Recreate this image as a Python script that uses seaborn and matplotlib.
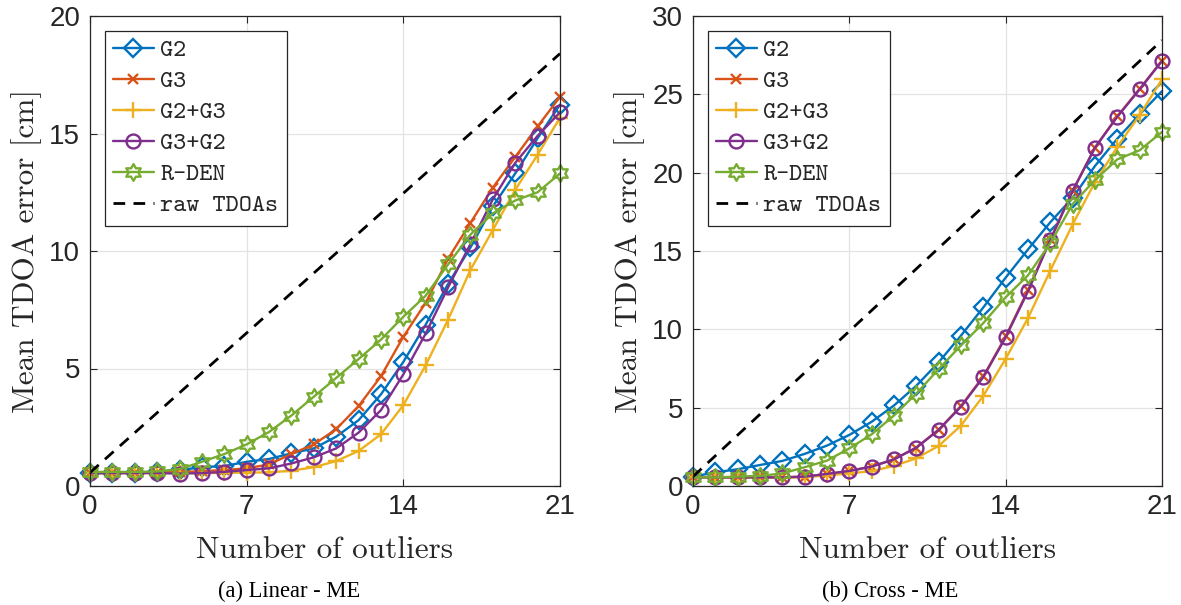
import matplotlib
matplotlib.use("Agg")
import matplotlib.pyplot as plt
from matplotlib.path import Path
import seaborn as sns

# ---------------- data ----------------
outliers = list(range(22))

# (a) Linear - ME
g2_lin = [0.55, 0.55, 0.57, 0.6, 0.68, 0.8, 0.85, 1.03, 1.15, 1.39, 1.6, 2.1,
          2.8, 3.9, 5.28, 6.87, 8.6, 10.15, 11.9, 13.3, 14.8, 16.23]
g3_lin = [0.55, 0.55, 0.55, 0.57, 0.6, 0.63, 0.68, 0.75, 0.92, 1.36, 1.77, 2.42,
          3.4, 4.67, 6.35, 7.8, 9.67, 11.2, 12.7, 14.0, 15.3, 16.56]
g2g3_lin = [0.55, 0.55, 0.55, 0.55, 0.55, 0.55, 0.56, 0.57, 0.58, 0.65, 0.8, 1.06,
            1.49, 2.2, 3.44, 5.14, 7.08, 9.2, 10.9, 12.6, 14.1, 15.67]
g3g2_lin = [0.55, 0.55, 0.55, 0.55, 0.53, 0.55, 0.6, 0.68, 0.75, 0.96, 1.22, 1.6,
            2.27, 3.23, 4.75, 6.49, 8.45, 10.3, 12.2, 13.75, 14.9, 15.9]
rden_lin = [0.6, 0.6, 0.6, 0.62, 0.72, 1.03, 1.36, 1.77, 2.3, 3.0, 3.8, 4.6,
            5.4, 6.23, 7.2, 8.1, 9.43, 10.7, 11.6, 12.15, 12.5, 13.3]
raw_x = [0, 21]
raw_lin = [0.57, 18.4]

# (b) Cross - ME
g2_cr = [0.6, 0.87, 1.07, 1.34, 1.6, 2.05, 2.58, 3.26, 4.1, 5.14, 6.4, 7.9,
         9.6, 11.4, 13.3, 15.1, 16.84, 18.4, 20.43, 22.17, 23.72, 25.2]
g3_cr = [0.55, 0.55, 0.55, 0.55, 0.55, 0.6, 0.77, 0.96, 1.24, 1.7, 2.45, 3.6,
         5.1, 7.0, 9.55, 12.5, 15.75, 18.85, 21.6, 23.6, 25.35, 27.15]
g2g3_cr = [0.55, 0.55, 0.55, 0.55, 0.55, 0.55, 0.68, 0.8, 0.95, 1.28, 1.77, 2.56,
           3.86, 5.76, 8.12, 10.72, 13.75, 16.7, 19.4, 21.64, 23.68, 25.96]
g3g2_cr = [0.55, 0.55, 0.55, 0.55, 0.55, 0.6, 0.77, 0.96, 1.24, 1.7, 2.45, 3.58,
           5.07, 6.95, 9.49, 12.43, 15.7, 18.83, 21.6, 23.57, 25.32, 27.13]
rden_cr = [0.55, 0.55, 0.6, 0.65, 0.8, 1.2, 1.62, 2.4, 3.3, 4.5, 5.9, 7.46,
           8.98, 10.4, 12.05, 13.45, 15.5, 18.0, 19.53, 20.85, 21.43, 22.6]
raw_cr = [0.6, 28.45]

series_names = ["G2", "G3", "G2+G3", "G3+G2", "R-DEN"]
raw_name = "raw TDOAs"
xticks = [0, 7, 14, 21]
yticks_lin = [0, 5, 10, 15, 20]
yticks_cr = [0, 5, 10, 15, 20, 25, 30]
captions = ["(a) Linear - ME", "(b) Cross - ME"]
xlabel = "Number of outliers"
ylabel = "Mean TDOA error [cm]"

# ---------------- style ----------------
sns.set_style("ticks")
plt.rcParams['font.family'] = ['Liberation Sans', 'DejaVu Sans']

hexagram = Path.unit_regular_star(6, 0.577)
colors = ["#0072BD", "#D95319", "#EDB120", "#7E2F8E", "#77AC30"]
markers = ["D", "x", "+", "o", hexagram]
msizes = [9, 7.5, 11, 10, 12]
axcol = "#262626"

fig = plt.figure(figsize=(11.81, 6.05), dpi=100)
W, H = 1181, 605
ax1 = fig.add_axes([90 / W, (H - 486) / H, 470 / W, 470 / H])
ax2 = fig.add_axes([693 / W, (H - 486) / H, 469 / W, 470 / H])
caption_x = [289 / W, 890 / W]

panels = [
    (ax1, [g2_lin, g3_lin, g2g3_lin, g3g2_lin, rden_lin], raw_lin, yticks_lin),
    (ax2, [g2_cr, g3_cr, g2g3_cr, g3g2_cr, rden_cr], raw_cr, yticks_cr),
]

for i, (ax, data, raw, yt) in enumerate(panels):
    ax.set_axisbelow(True)
    ax.grid(True, color="#e3e3e3", linewidth=0.9)
    for name, vals, c, m, ms in zip(series_names, data, colors, markers, msizes):
        sns.lineplot(x=outliers, y=vals, ax=ax, color=c, marker=m, markersize=ms,
                     markerfacecolor="none", markeredgecolor=c, markeredgewidth=1.7,
                     linewidth=1.7, label=name, clip_on=False)
    sns.lineplot(x=raw_x, y=raw, ax=ax, color="black", linewidth=2.0,
                 linestyle="--", label=raw_name)
    ax.lines[-1].set_dashes([4.2, 3.0])
    ax.set_xlim(0, 21)
    ax.set_ylim(yt[0], yt[-1])
    ax.set_xticks(xticks)
    ax.set_yticks(yt)
    ax.tick_params(direction="in", length=5, width=0.8, top=True, right=True,
                   colors=axcol, labelcolor="#262626", labelsize=20)
    ax.tick_params(axis="x", pad=6)
    ax.tick_params(axis="y", pad=7)
    for sp in ax.spines.values():
        sp.set_color(axcol)
        sp.set_linewidth(0.9)
        sp.set_visible(True)
    ax.set_xlabel(xlabel, family="cmr10", fontsize=22.5, color="#262626", labelpad=11)
    ax.set_ylabel(ylabel, family="cmr10", fontsize=22.5, color="#262626", labelpad=5)
    leg = ax.legend(loc="upper left", prop={"family": "cmtt10", "size": 18},
                    frameon=True, fancybox=False, framealpha=1, edgecolor=axcol,
                    borderaxespad=0.58, borderpad=0.33, handlelength=1.65,
                    handletextpad=0.25, labelspacing=0.3, numpoints=1)
    leg.get_frame().set_linewidth(0.9)
    fig.text(caption_x[i], 1 - 591 / H, captions[i], ha="center", va="center",
             family="Liberation Serif", fontsize=16.3, color="black")

fig.savefig("out.png", dpi=100)
